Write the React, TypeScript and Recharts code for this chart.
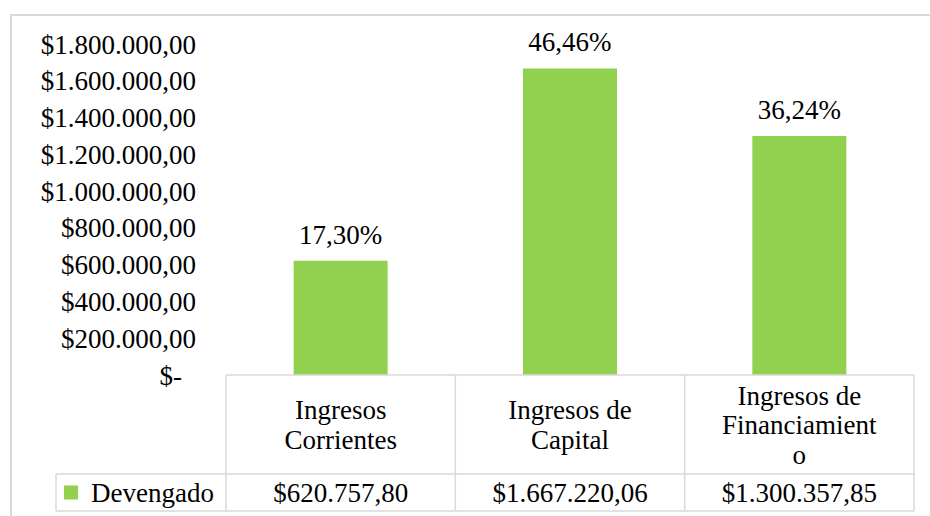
import { Bar, BarChart, LabelList, XAxis, YAxis } from 'recharts'

const categoryLines = [
  ['Ingresos', 'Corrientes'],
  ['Ingresos de', 'Capital'],
  ['Ingresos de', 'Financiamient', 'o'],
]
const devengado = [620757.8, 1667220.06, 1300357.85]
const devengadoLabels = ['$620.757,80', '$1.667.220,06', '$1.300.357,85']
const shares = ['17,30%', '46,46%', '36,24%']
const yTicks = [0, 200000, 400000, 600000, 800000, 1000000, 1200000, 1400000, 1600000, 1800000]
const seriesName = 'Devengado'

const W = 930
const H = 516
const MARGIN = { top: 44, right: 16, bottom: 5, left: 10 }
const Y_AXIS_W = 216
const X_AXIS_H = 136
const COL_W = (W - MARGIN.left - Y_AXIS_W - MARGIN.right) / categoryLines.length
const ROW1 = 99
const ROW2 = 37
const LEGEND_W = 170
const LINE_H = 29.5

const FONT = "'Liberation Serif', 'Times New Roman', serif"
const FONT_SIZE = 27
const GREEN = '#92D050'
const GRID = '#d9d9d9'
const textStyle = { fontFamily: FONT, fontSize: FONT_SIZE }

const data = categoryLines.map((lines, i) => ({
  name: lines.join(' '),
  value: devengado[i],
  share: shares[i],
}))

function money(v: number) {
  if (v === 0) return '$-'
  const [int, dec] = v.toFixed(2).split('.')
  return '$' + int.replace(/\B(?=(\d{3})+(?!\d))/g, '.') + ',' + dec
}

function YTick(props: any) {
  const { x, y, payload } = props
  // Excel's accounting format pads the zero value
  const shift = payload.value === 0 ? -14 : 0
  return (
    <text x={x + shift} y={y} dy="0.355em" textAnchor="end" fill="#000" style={textStyle}>
      {money(payload.value)}
    </text>
  )
}

function TableTick(props: any) {
  const { x, y, index } = props
  const left = x - COL_W / 2
  const right = x + COL_W / 2
  const lines = categoryLines[index]
  const mid = y + ROW1 / 2
  const valueY = y + ROW1 + ROW2 / 2
  const bottom = y + ROW1 + ROW2
  const stroke = { stroke: GRID, strokeWidth: 1.5 }
  return (
    <g>
      <line x1={left} y1={y} x2={right} y2={y} {...stroke} />
      <line x1={left} y1={y + ROW1} x2={right} y2={y + ROW1} {...stroke} />
      <line x1={left} y1={bottom} x2={right} y2={bottom} {...stroke} />
      <line x1={left} y1={y} x2={left} y2={bottom} {...stroke} />
      {index === categoryLines.length - 1 && <line x1={right} y1={y} x2={right} y2={bottom} {...stroke} />}
      {index === 0 && (
        <g>
          <line x1={left - LEGEND_W} y1={y + ROW1} x2={left} y2={y + ROW1} {...stroke} />
          <line x1={left - LEGEND_W} y1={bottom} x2={left} y2={bottom} {...stroke} />
          <line x1={left - LEGEND_W} y1={y + ROW1} x2={left - LEGEND_W} y2={bottom} {...stroke} />
          <rect x={left - LEGEND_W + 8} y={valueY - 7} width={14} height={14} fill={GREEN} />
          <text x={left - LEGEND_W + 35} y={valueY} dy="0.355em" fill="#000" style={textStyle}>
            {seriesName}
          </text>
        </g>
      )}
      {lines.map((line, i) => (
        <text
          key={i}
          x={x}
          y={mid + (i - (lines.length - 1) / 2) * LINE_H}
          dy="0.355em"
          textAnchor="middle"
          fill="#000"
          style={textStyle}
        >
          {line}
        </text>
      ))}
      <text x={x} y={valueY} dy="0.355em" textAnchor="middle" fill="#000" style={textStyle}>
        {devengadoLabels[index]}
      </text>
    </g>
  )
}

export default function App() {
  return (
    <div style={{ position: 'absolute', left: 0, top: 0, width: W, height: H, overflow: 'hidden', background: '#fff', fontFamily: FONT }}>
      <div
        style={{
          position: 'absolute',
          left: 10,
          top: 14,
          width: W,
          height: H,
          border: `2px solid ${GRID}`,
          boxSizing: 'border-box',
        }}
      />
      <div style={{ position: 'absolute', left: 0, top: 0 }}>
        <BarChart width={W} height={H} data={data} margin={MARGIN} barCategoryGap="29.5%" style={{ fontFamily: FONT }}>
          <XAxis
            dataKey="name"
            height={X_AXIS_H}
            axisLine={false}
            tickLine={false}
            tickSize={0}
            tickMargin={0}
            interval={0}
            tick={<TableTick />}
          />
          <YAxis
            width={Y_AXIS_W}
            domain={[0, 1800000]}
            ticks={yTicks}
            axisLine={false}
            tickLine={false}
            tickSize={6}
            tickMargin={24}
            interval={0}
            tick={<YTick />}
          />
          <Bar dataKey="value" fill={GREEN} isAnimationActive={false}>
            <LabelList dataKey="share" position="top" offset={17} fill="#000" style={textStyle} />
          </Bar>
        </BarChart>
      </div>
    </div>
  )
}
